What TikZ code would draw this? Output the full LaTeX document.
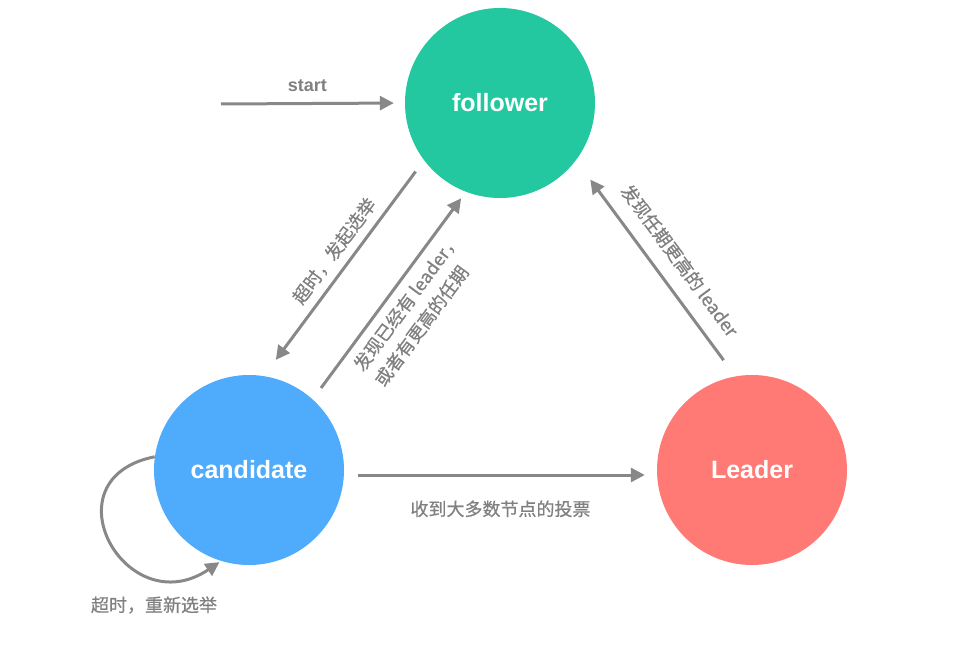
\documentclass[tikz,border=0pt]{standalone}
\usepackage{fontspec}
\setmainfont{Liberation Sans}
\newfontfamily\cjk[FakeBold=0.6]{Noto Sans CJK SC}
\usetikzlibrary{arrows.meta}
\definecolor{followerGreen}{RGB}{35,199,160}
\definecolor{candidateBlue}{RGB}{79,171,252}
\definecolor{leaderRed}{RGB}{255,121,117}
\definecolor{arrowGray}{RGB}{136,136,136}
\definecolor{labelGray}{RGB}{128,128,128}

\begin{document}
\begin{tikzpicture}[x=1pt, y=-1pt,
state/.style={circle, minimum size=190pt, inner sep=0pt, text=white,
font=\bfseries\fontsize{25}{30}\selectfont},
arrow/.style={-{Triangle[length=14pt,width=14pt]}, line width=3pt, draw=arrowGray},
note/.style={text=labelGray, inner sep=2pt, font=\cjk\fontsize{18}{26}\selectfont}]
\useasboundingbox (0,0) rectangle (962,650);
\node[state, fill=followerGreen] (follower) at (500,103) {follower};
\node[state, fill=candidateBlue] (candidate) at (249,470) {candidate};
\node[state, fill=leaderRed] (leader) at (752,470) {Leader};
\coordinate (init) at (221,104);
\draw[arrow, shorten >=11pt] (init) -- (follower.west)
    node[pos=0.47, above=8pt, inner sep=2pt, text=labelGray,
    font=\bfseries\fontsize{18}{22}\selectfont] (startlbl) {start};
\draw[arrow, shorten <=14pt, shorten >=20pt] (follower.217) -- (candidate.81)
    node[note, pos=0.47, sloped, above=6pt] (timeoutlbl) {超时，发起选举};
\draw[arrow, shorten <=14pt, shorten >=8pt] (candidate.48) -- (follower.249)
    node[note, pos=0.52, sloped, below=6pt, align=left] (steplbl)
    {发现已经有 leader，\\或者有更高的任期};
\draw[arrow, shorten <=20pt, shorten >=24pt] (leader.100) -- (follower.323)
    node[note, pos=0.47, sloped, above=12pt] (higherlbl) {发现任期更高的 leader};
\draw[arrow, shorten <=14pt, shorten >=12pt] ([yshift=-5pt]candidate.east) -- ([yshift=-5pt]leader.west)
    node[note, midway, below=22pt] (votelbl) {收到大多数节点的投票};
% candidate times out and starts again
\draw[arrow, shorten >=2pt] (candidate.172) .. controls +(-110,22) and +(-95,64) .. (candidate.253);
\node[note] (retrylbl) at (154,605) {超时，重新选举};
\end{tikzpicture}
\end{document}
